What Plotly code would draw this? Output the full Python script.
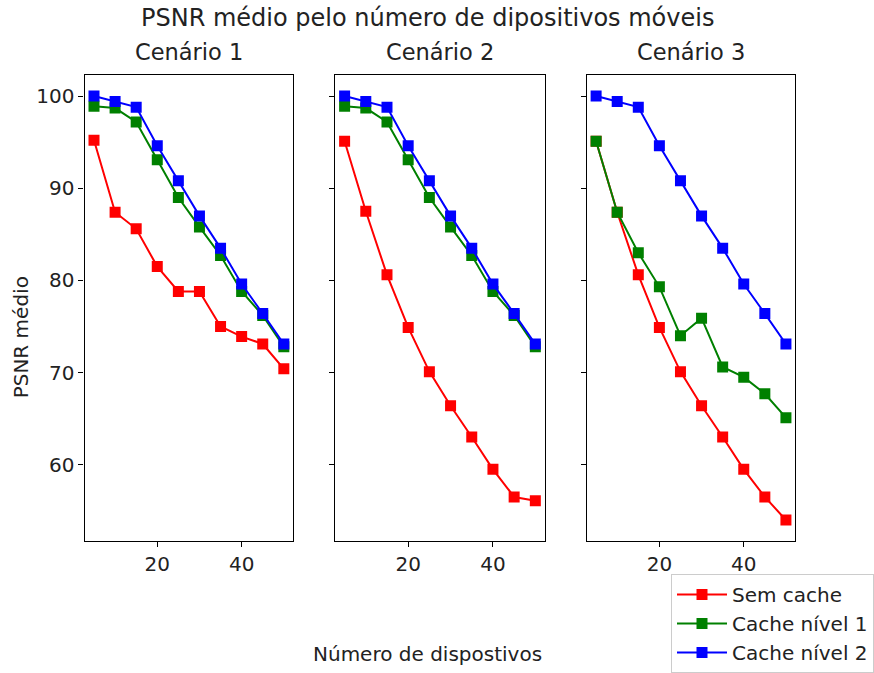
import plotly.graph_objects as go

W, H = 874, 673

dispositivos = [5, 10, 15, 20, 25, 30, 35, 40, 45, 50]
series_names = ["Sem cache", "Cache nível 1", "Cache nível 2"]
colors = ["red", "green", "blue"]
scenario_titles = ["Cenário 1", "Cenário 2", "Cenário 3"]

# Cenário 1
c1_sem_cache = [95.2, 87.4, 85.6, 81.5, 78.8, 78.8, 75.0, 73.9, 73.1, 70.4]
c1_nivel1 = [98.9, 98.7, 97.2, 93.1, 89.0, 85.8, 82.7, 78.8, 76.2, 72.8]
c1_nivel2 = [100.0, 99.4, 98.8, 94.6, 90.8, 87.0, 83.5, 79.6, 76.4, 73.1]
# Cenário 2
c2_sem_cache = [95.1, 87.5, 80.6, 74.9, 70.1, 66.4, 63.0, 59.5, 56.5, 56.1]
c2_nivel1 = [98.9, 98.7, 97.2, 93.1, 89.0, 85.8, 82.7, 78.8, 76.2, 72.8]
c2_nivel2 = [100.0, 99.4, 98.8, 94.6, 90.8, 87.0, 83.5, 79.6, 76.4, 73.1]
# Cenário 3
c3_sem_cache = [95.1, 87.4, 80.6, 74.9, 70.1, 66.4, 63.0, 59.5, 56.5, 54.0]
c3_nivel1 = [95.1, 87.4, 83.0, 79.3, 74.0, 75.9, 70.6, 69.5, 67.7, 65.1]
c3_nivel2 = [100.0, 99.4, 98.8, 94.6, 90.8, 87.0, 83.5, 79.6, 76.4, 73.1]

scenarios = [
    [c1_sem_cache, c1_nivel1, c1_nivel2],
    [c2_sem_cache, c2_nivel1, c2_nivel2],
    [c3_sem_cache, c3_nivel1, c3_nivel2],
]

x_ticks = [20, 40]
y_ticks = [60, 70, 80, 90, 100]

FONT = "DejaVu Sans"
TXT = "#222222"

# pixel layout of the panels
panels_px = [(85, 295), (337, 548), (590, 800)]
top_px, bottom_px = 75, 542

fig = go.Figure()
for i, sc in enumerate(scenarios):
    xa = "x" if i == 0 else f"x{i+1}"
    ya = "y" if i == 0 else f"y{i+1}"
    for j, vals in enumerate(sc):
        fig.add_trace(go.Scatter(
            x=dispositivos, y=vals, mode="lines+markers",
            name=series_names[j],
            line=dict(color=colors[j], width=2),
            marker=dict(symbol="square", size=11, color=colors[j]),
            xaxis=xa, yaxis=ya,
            showlegend=(i == 2),
        ))

xmin, xmax = min(dispositivos), max(dispositivos)
allv = [v for sc in scenarios for s in sc for v in s]
ymin, ymax = min(allv), max(allv)
xpad = (xmax - xmin) * 0.05
ypad = (ymax - ymin) * 0.05

layout = dict(
    width=W, height=H,
    margin=dict(l=0, r=0, t=0, b=0),
    paper_bgcolor="white", plot_bgcolor="white",
    font=dict(family=FONT, size=20, color="black"),
    showlegend=True,
    legend=dict(
        x=675 / W, y=1 - 575 / H, xanchor="left", yanchor="top",
        bgcolor="white", bordercolor="#cccccc", borderwidth=1,
        font=dict(family=FONT, size=20, color=TXT),
        itemwidth=50,
    ),
)

for i, (l, r) in enumerate(panels_px):
    xk = "xaxis" if i == 0 else f"xaxis{i+1}"
    yk = "yaxis" if i == 0 else f"yaxis{i+1}"
    xa = "x" if i == 0 else f"x{i+1}"
    ya = "y" if i == 0 else f"y{i+1}"
    layout[xk] = dict(
        domain=[l / W, r / W], anchor=ya,
        range=[xmin - xpad, xmax + xpad],
        tickvals=x_ticks, ticks="outside", ticklen=5, tickwidth=1.1,
        tickcolor="black", showline=True, linecolor="black", linewidth=1.1,
        mirror=True, showgrid=False, zeroline=False,
        tickfont=dict(family=FONT, size=20, color=TXT),
    )
    layout[yk] = dict(
        domain=[1 - bottom_px / H, 1 - top_px / H], anchor=xa,
        range=[ymin - ypad, ymax + ypad],
        tickvals=y_ticks, ticks="outside", ticklen=5, tickwidth=1.1,
        tickcolor="black", showline=True, linecolor="black", linewidth=1.1,
        mirror=True, showgrid=False, zeroline=False,
        showticklabels=(i == 0),
        tickfont=dict(family=FONT, size=20, color=TXT),
    )

annotations = [
    dict(text="PSNR médio pelo número de dipositivos móveis", x=430 / W, y=1 - 18 / H,
         xref="paper", yref="paper", showarrow=False, xanchor="center", yanchor="middle",
         font=dict(family=FONT, size=24, color=TXT)),
    dict(text="Número de dispostivos", x=430 / W, y=1 - 655 / H,
         xref="paper", yref="paper", showarrow=False, xanchor="center", yanchor="middle",
         font=dict(family=FONT, size=20, color=TXT)),
    dict(text="PSNR médio", x=22 / W, y=1 - 338 / H, textangle=-90,
         xref="paper", yref="paper", showarrow=False, xanchor="center", yanchor="middle",
         font=dict(family=FONT, size=20, color=TXT)),
]
for i, (l, r) in enumerate(panels_px):
    annotations.append(dict(
        text=scenario_titles[i], x=(l + r) / 2 / W, y=1 - 52 / H,
        xref="paper", yref="paper", showarrow=False, xanchor="center", yanchor="middle",
        font=dict(family=FONT, size=22.5, color=TXT)))
layout["annotations"] = annotations

fig.update_layout(**layout)
fig.write_html(
    "out.html",
    config={"displayModeBar": False},
    post_script="document.body.style.margin='0';document.body.style.overflow='hidden';",
)
